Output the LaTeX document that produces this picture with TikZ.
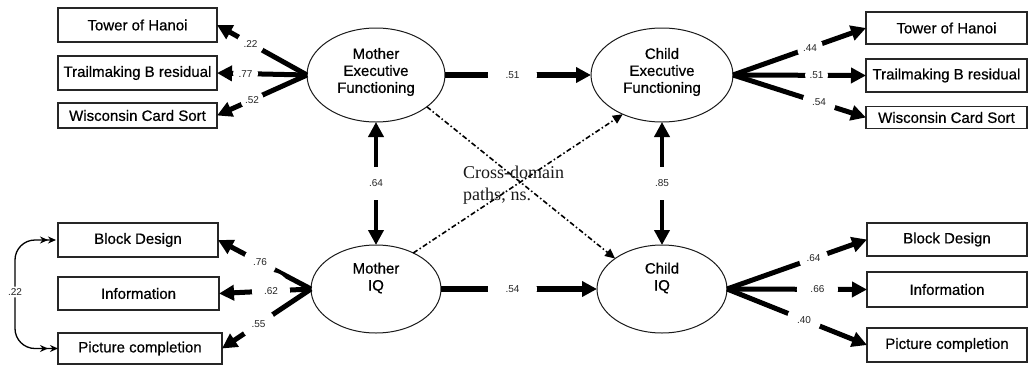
\documentclass[tikz,border=0pt]{standalone}
\usepackage{fontspec}
\setmainfont{Liberation Sans}
\newfontfamily\heavysans[FakeBold=0.6]{Liberation Sans}
\newfontfamily\serifcap{Liberation Serif}
\usetikzlibrary{shapes.geometric,arrows.meta}
\begin{document}
\begin{tikzpicture}[x=1pt,y=-1pt,
  box/.style={draw=black!85, line width=1.1pt, rectangle, inner sep=0pt, outer sep=0pt,
    font=\heavysans\fontsize{15}{17}\selectfont},
  lat/.style={draw=black!90, ellipse, line width=1pt, inner sep=0pt, outer sep=0pt},
  lattext/.style={align=center, inner sep=0pt, font=\heavysans\fontsize{15}{17}\selectfont},
  load/.style={line width=5pt, -{Triangle[length=15pt,width=15pt]}},
  mainarrow/.style={line width=5.5pt, -{Triangle[length=15pt,width=15pt]}},
  vert/.style={line width=4.5pt, {Triangle[length=15pt,width=15pt]}-{Triangle[length=15pt,width=15pt]}},
  lbl/.style={circle, fill=white, inner sep=0pt, minimum size=#1, font=\fontsize{10}{12}\selectfont, text=black!85},
  crossarrow/.style={line width=1.6pt, dash pattern=on 5pt off 2.5pt on 1.5pt off 2.5pt, -{Triangle[length=10pt,width=9pt]}},
  corr/.style={line width=1.3pt, rounded corners=20pt,
    {Stealth[length=8pt,width=7pt,sep=2pt]Stealth[length=8pt,width=7pt]}-{Stealth[length=8pt,width=7pt,sep=2pt]Stealth[length=8pt,width=7pt]}},
  corrlbl/.style={fill=white, inner sep=2pt, font=\fontsize{10}{12}\selectfont, text=black!85},
]
\useasboundingbox (0,0) rectangle (1029,368);

% latent variables
\node[lat, minimum width=138pt, minimum height=94pt] (mef) at (376,75) {};
\node[lat, minimum width=142pt, minimum height=94pt] (cef) at (662,75) {};
\node[lat, minimum width=130pt, minimum height=88pt] (miq) at (376,289) {};
\node[lat, minimum width=130pt, minimum height=88pt] (ciq) at (662,289) {};
\node[lattext] (meft) at (376,72) {Mother\\Executive\\Functioning};
\node[lattext] (ceft) at (662,72) {Child\\Executive\\Functioning};
\node[lattext] (miqt) at (376,278) {Mother\\IQ};
\node[lattext] (ciqt) at (662,278) {Child\\IQ};

% left indicators
\node[box, minimum width=159pt, minimum height=34pt] (ltoh) at (137.5,25) {Tower of Hanoi};
\node[box, minimum width=159pt, minimum height=34pt] (ltrail) at (137.5,73) {Trailmaking B residual};
\node[box, minimum width=159pt, minimum height=25pt] (lwisc) at (137.5,115.5) {Wisconsin Card Sort};
\node[box, minimum width=160pt, minimum height=34pt] (lbd) at (138,240) {Block Design};
\node[box, minimum width=161pt, minimum height=33pt] (linfo) at (138.5,293.5) {Information};
\node[box, minimum width=164pt, minimum height=31pt] (lpc) at (140,348.5) {Picture completion};

% right indicators
\node[box, minimum width=161pt, minimum height=32pt] (rtoh) at (946.5,28) {Tower of Hanoi};
\node[box, minimum width=161pt, minimum height=33pt] (rtrail) at (946.5,75.5) {Trailmaking B residual};
\node[box, minimum width=161pt, minimum height=22pt] (rwisc) at (946.5,117.5) {Wisconsin Card Sort};
\node[box, minimum width=160pt, minimum height=33pt] (rbd) at (947,239.5) {Block Design};
\node[box, minimum width=160pt, minimum height=35pt] (rinfo) at (947,289.5) {Information};
\node[box, minimum width=160pt, minimum height=34pt] (rpc) at (947,345) {Picture completion};

% loadings, mother EF
\draw[load] (mef.west) -- node[lbl=27pt, pos=.628] (a22) {.22} (ltoh.east);
\draw[load] (mef.west) -- node[lbl=25pt, pos=.683] (a77) {.77} (ltrail.east);
\draw[load] (mef.west) -- node[lbl=23pt, pos=.611] (a52) {.52} (lwisc.east);
% loadings, child EF
\draw[load] (cef.east) -- node[lbl=26pt, pos=.579] (b44) {.44} (rtoh.west);
\draw[load] (cef.east) -- node[lbl=23pt, pos=.628] (b51) {.51} (rtrail.west);
\draw[load] (cef.east) -- node[lbl=33pt, pos=.647] (b54) {.54} (rwisc.west);
% loadings, mother IQ
\draw[load] (miq.west) -- node[lbl=33pt, pos=.548] (c76) {.76} (lbd.east);
\draw[load] (miq.west) -- node[lbl=38pt, pos=.435] (c62) {.62} (linfo.east);
\draw[load] (miq.west) -- node[lbl=34pt, pos=.59] (c55) {.55} (lpc.east);
% loadings, child IQ
\draw[load] (ciq.east) -- node[lbl=29pt, pos=.618] (d64) {.64} (rbd.west);
\draw[load] (ciq.east) -- node[lbl=41pt, pos=.646] (d66) {.66} (rinfo.west);
\draw[load] (ciq.east) -- node[lbl=34pt, pos=.55] (d40) {.40} (rpc.west);

% structural paths
\draw[mainarrow] (mef.east) -- node[lbl=49pt, pos=.462] (p51) {.51} (cef.west);
\draw[mainarrow] (miq.east) -- node[lbl=49pt, pos=.458] (p54) {.54} (ciq.west);
\draw[vert] (mef.south) -- node[lbl=33pt] (p64) {.64} (miq.north);
\draw[vert] (cef.south) -- node[lbl=33pt] (p85) {.85} (ciq.north);

% cross-domain paths
\draw[crossarrow] (mef.-32) -- (ciq.147);
\draw[crossarrow] (miq.44) -- (cef.225);
\node[font=\serifcap\fontsize{18}{22}\selectfont, align=left, anchor=north west, inner sep=0pt, text=black!90] (cross) at (463,166) {Cross-domain\\paths; ns.};

% residual correlation
\draw[corr] (lbd.west) -| (15,292) node[corrlbl] (r22) {.22} |- (lpc.west);
\end{tikzpicture}
\end{document}
